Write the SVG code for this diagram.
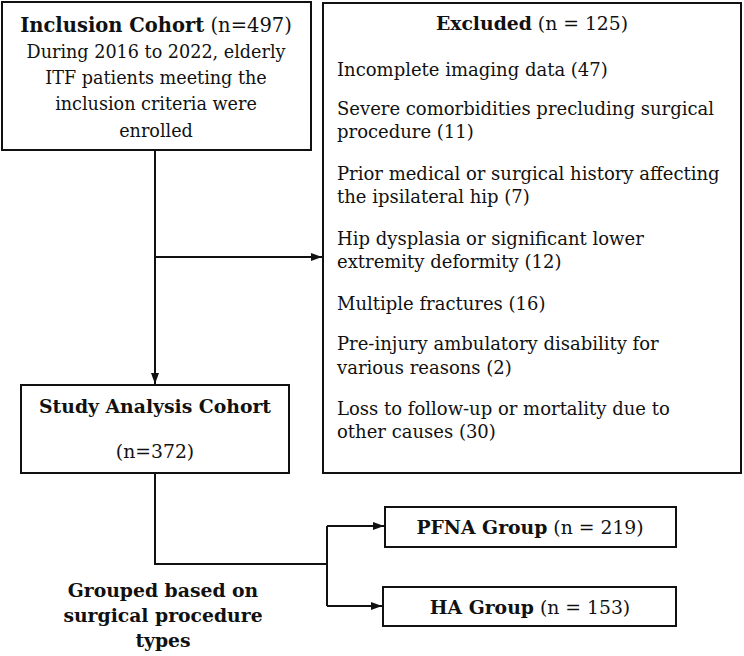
<svg xmlns="http://www.w3.org/2000/svg" width="744" height="656" viewBox="0 0 744 656">
  <style>
    .box { fill: #ffffff; stroke: #111111; stroke-width: 2; }
    .link { fill: none; stroke: #111111; stroke-width: 2; }
    text { font-family: "DejaVu Serif", "Liberation Serif", serif; fill: #111111; }
    .t { font-size: 18px; }
    .s { font-size: 17.6px; }
    .h { font-size: 19.5px; }
    .m { font-size: 18.8px; }
    .b { font-weight: bold; }
    .c { text-anchor: middle; }
  </style>
  <defs>
    <marker id="arrow" markerUnits="userSpaceOnUse" markerWidth="12" markerHeight="10" refX="11" refY="5" orient="auto">
      <path d="M0,1 L11,5 L0,9 z" fill="#111111"/>
    </marker>
  </defs>
  <rect width="744" height="656" fill="#ffffff"/>

  <g id="connectors">
    <path class="link" d="M155,150 V384" marker-end="url(#arrow)"/>
    <path class="link" d="M155,257 H322" marker-end="url(#arrow)"/>
    <path class="link" d="M155,473 V564 H327"/>
    <path class="link" d="M327,526 V606"/>
    <path class="link" d="M327,526 H384" marker-end="url(#arrow)"/>
    <path class="link" d="M327,606 H382" marker-end="url(#arrow)"/>
  </g>

  <g id="inclusion">
    <rect class="box" x="2" y="2" width="309" height="148"/>
    <text class="h c" x="156" y="32"><tspan class="b">Inclusion Cohort</tspan> (n=497)</text>
    <text class="s c" x="156" y="58">During 2016 to 2022, elderly</text>
    <text class="s c" x="156" y="84">ITF patients meeting the</text>
    <text class="s c" x="156" y="110">inclusion criteria were</text>
    <text class="s c" x="156" y="137">enrolled</text>
  </g>

  <g id="excluded">
    <rect class="box" x="323" y="3" width="418" height="470"/>
    <text class="m c" x="532" y="30"><tspan class="b">Excluded</tspan> (n = 125)</text>
    <text class="t" x="337" y="76">Incomplete imaging data (47)</text>
    <text class="t" x="337" y="115">Severe comorbidities precluding surgical</text>
    <text class="t" x="337" y="138">procedure (11)</text>
    <text class="t" x="337" y="180">Prior medical or surgical history affecting</text>
    <text class="t" x="337" y="203">the ipsilateral hip (7)</text>
    <text class="t" x="337" y="245">Hip dysplasia or significant lower</text>
    <text class="t" x="337" y="268">extremity deformity (12)</text>
    <text class="t" x="337" y="310">Multiple fractures (16)</text>
    <text class="t" x="337" y="350">Pre-injury ambulatory disability for</text>
    <text class="t" x="337" y="374">various reasons (2)</text>
    <text class="t" x="337" y="415">Loss to follow-up or mortality due to</text>
    <text class="t" x="337" y="438">other causes (30)</text>
  </g>

  <g id="study">
    <rect class="box" x="21" y="385" width="268" height="88"/>
    <text class="m b c" x="155" y="413">Study Analysis Cohort</text>
    <text class="m c" x="155" y="458">(n=372)</text>
  </g>

  <g id="grouping">
    <text class="m b c" x="163" y="597">Grouped based on</text>
    <text class="m b c" x="163" y="622">surgical procedure</text>
    <text class="m b c" x="163" y="647">types</text>
  </g>

  <g id="pfna">
    <rect class="box" x="385" y="507" width="291" height="40"/>
    <text class="m c" x="530" y="534"><tspan class="b">PFNA Group</tspan> (n = 219)</text>
  </g>

  <g id="ha">
    <rect class="box" x="383" y="587" width="293" height="39"/>
    <text class="m c" x="530" y="614"><tspan class="b">HA Group</tspan> (n = 153)</text>
  </g>
</svg>
